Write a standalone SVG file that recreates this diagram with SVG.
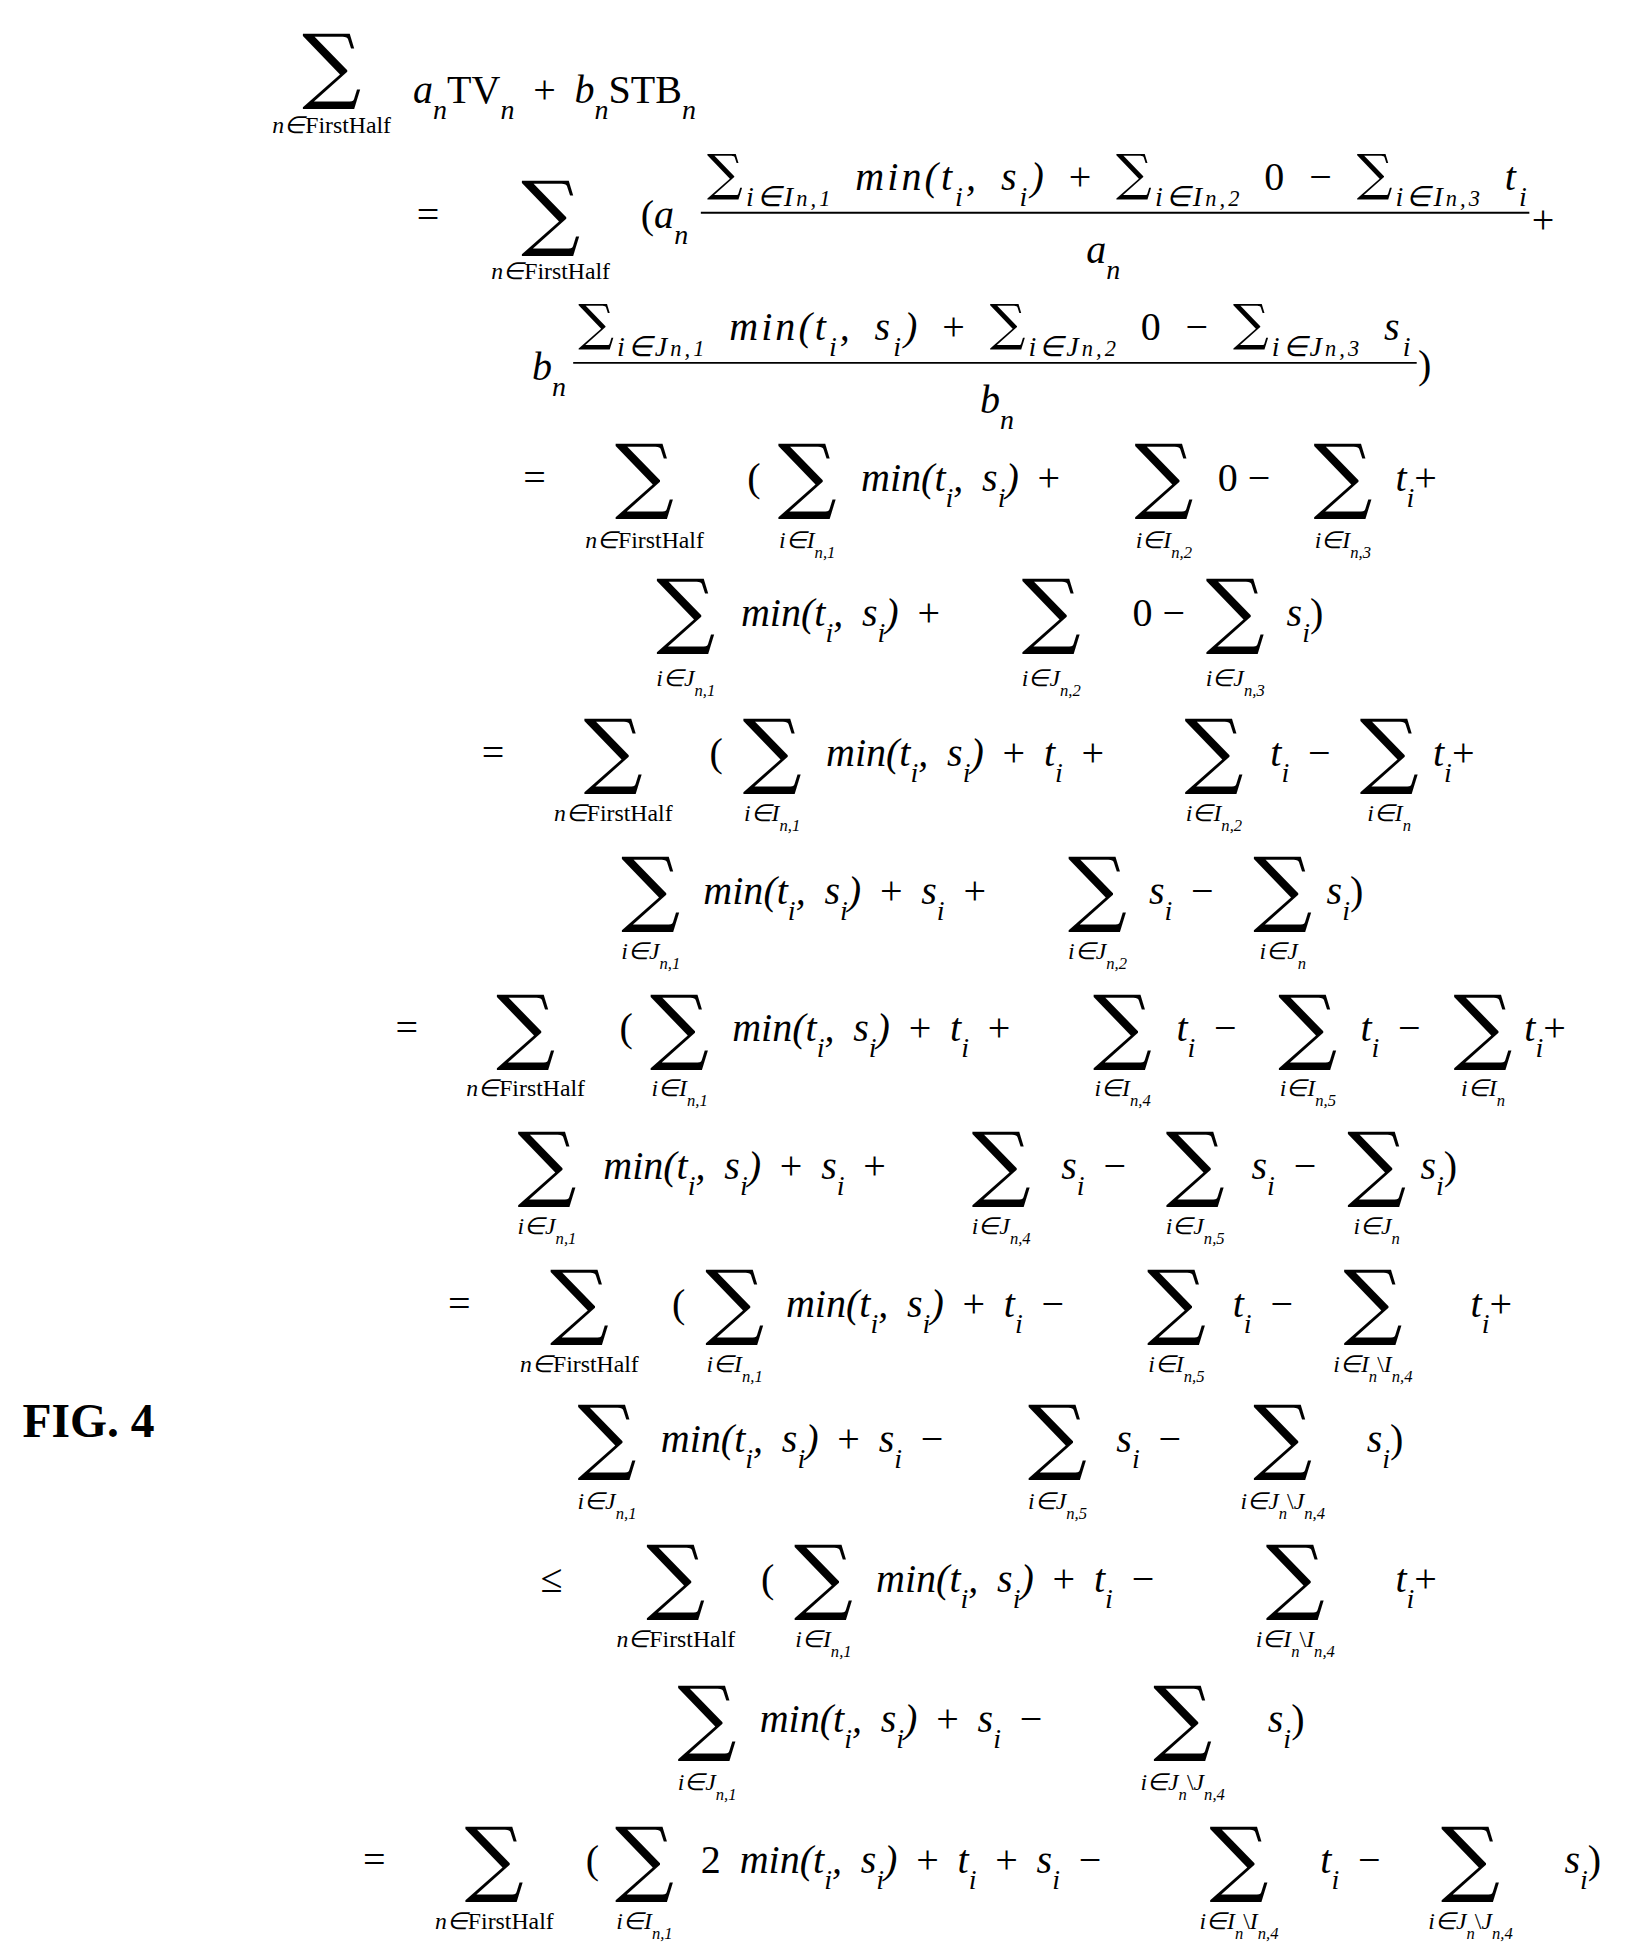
<svg xmlns="http://www.w3.org/2000/svg" width="1627" height="1952" viewBox="0 0 1627 1952">
<style>
.m{font-family:"Liberation Serif",serif;font-style:italic;font-size:32px;word-spacing:7px;fill:#000}
.u{font-style:normal}
.l{font-family:"Liberation Serif",serif;font-style:italic;font-size:19px;text-anchor:middle;fill:#000}
.S{font-family:"DejaVu Serif",serif;font-size:66px;text-anchor:middle;fill:#000}
.s2{font-family:"DejaVu Serif",serif;font-size:40px;font-style:normal}
.sb{font-size:70%;baseline-shift:sub}
.o{font-family:"Liberation Serif",serif;font-size:32px;fill:#000}
.f{font-family:"Liberation Serif",serif;font-weight:bold;font-size:38px;fill:#000}
</style>
<rect width="1627" height="1952" fill="#fff"/>
<g transform="scale(1.2515)">
<text class="f" x="18" y="1148">FIG. 4</text>
<!-- L1 -->
<text class="S" x="265" y="74">∑</text>
<text class="l" x="265" y="106">n∈<tspan class="u">FirstHalf</tspan></text>
<text class="m" x="330" y="82">a<tspan class="sb">n</tspan><tspan class="u">TV</tspan><tspan class="sb">n</tspan><tspan class="u"> + </tspan>b<tspan class="sb">n</tspan><tspan class="u">STB</tspan><tspan class="sb">n</tspan></text>
<!-- L2 -->
<text class="o" x="333" y="182">=</text>
<text class="S" x="440" y="192">∑</text>
<text class="l" x="440" y="223">n∈<tspan class="u">FirstHalf</tspan></text>
<text class="m" x="512" y="182"><tspan class="u">(</tspan>a<tspan class="sb">n</tspan></text>
<text class="m" x="565" y="152" textLength="655" lengthAdjust="spacing"><tspan class="s2">∑</tspan><tspan class="sb">i∈I<tspan font-size="80%">n,1</tspan></tspan> min(t<tspan class="sb">i</tspan>, s<tspan class="sb">i</tspan>)<tspan class="u"> + </tspan><tspan class="s2">∑</tspan><tspan class="sb">i∈I<tspan font-size="80%">n,2</tspan></tspan><tspan class="u"> 0 − </tspan><tspan class="s2">∑</tspan><tspan class="sb">i∈I<tspan font-size="80%">n,3</tspan></tspan> t<tspan class="sb">i</tspan></text>
<line x1="560" y1="170" x2="1222" y2="170" stroke="#000" stroke-width="1.5"/>
<text class="m" x="868" y="210">a<tspan class="sb">n</tspan></text>
<text class="o" x="1224" y="186">+</text>
<!-- L3 -->
<text class="m" x="425" y="304">b<tspan class="sb">n</tspan></text>
<text class="m" x="462" y="272" textLength="665" lengthAdjust="spacing"><tspan class="s2">∑</tspan><tspan class="sb">i∈J<tspan font-size="80%">n,1</tspan></tspan> min(t<tspan class="sb">i</tspan>, s<tspan class="sb">i</tspan>)<tspan class="u"> + </tspan><tspan class="s2">∑</tspan><tspan class="sb">i∈J<tspan font-size="80%">n,2</tspan></tspan><tspan class="u"> 0 − </tspan><tspan class="s2">∑</tspan><tspan class="sb">i∈J<tspan font-size="80%">n,3</tspan></tspan> s<tspan class="sb">i</tspan></text>
<line x1="458" y1="290" x2="1132" y2="290" stroke="#000" stroke-width="1.5"/>
<text class="m" x="783" y="330">b<tspan class="sb">n</tspan></text>
<text class="o" x="1133" y="302">)</text>
<!-- L4 -->
<text class="o" x="418" y="392">=</text>
<text class="S" x="515" y="402">∑</text>
<text class="l" x="515" y="438">n∈<tspan class="u">FirstHalf</tspan></text>
<text class="o" x="597" y="392">(</text>
<text class="S" x="645" y="402">∑</text>
<text class="l" x="645" y="438">i∈I<tspan class="sb">n,1</tspan></text>
<text class="m" x="688" y="392">min(t<tspan class="sb">i</tspan>, s<tspan class="sb">i</tspan>)<tspan class="u"> +</tspan></text>
<text class="S" x="930" y="402">∑</text>
<text class="l" x="930" y="438">i∈I<tspan class="sb">n,2</tspan></text>
<text class="o" x="973" y="392">0 −</text>
<text class="S" x="1073" y="402">∑</text>
<text class="l" x="1073" y="438">i∈I<tspan class="sb">n,3</tspan></text>
<text class="m" x="1115" y="392">t<tspan class="sb">i</tspan><tspan class="u">+</tspan></text>
<!-- L5 -->
<text class="S" x="548" y="510">∑</text>
<text class="l" x="548" y="548">i∈J<tspan class="sb">n,1</tspan></text>
<text class="m" x="592" y="500">min(t<tspan class="sb">i</tspan>, s<tspan class="sb">i</tspan>)<tspan class="u"> +</tspan></text>
<text class="S" x="840" y="510">∑</text>
<text class="l" x="840" y="548">i∈J<tspan class="sb">n,2</tspan></text>
<text class="o" x="905" y="500">0 −</text>
<text class="S" x="987" y="510">∑</text>
<text class="l" x="987" y="548">i∈J<tspan class="sb">n,3</tspan></text>
<text class="m" x="1028" y="500">s<tspan class="sb">i</tspan><tspan class="u">)</tspan></text>
<!-- L6 -->
<text class="o" x="385" y="612">=</text>
<text class="S" x="490" y="622">∑</text>
<text class="l" x="490" y="656">n∈<tspan class="u">FirstHalf</tspan></text>
<text class="o" x="567" y="612">(</text>
<text class="S" x="617" y="622">∑</text>
<text class="l" x="617" y="656">i∈I<tspan class="sb">n,1</tspan></text>
<text class="m" x="660" y="612">min(t<tspan class="sb">i</tspan>, s<tspan class="sb">i</tspan>)<tspan class="u"> + </tspan>t<tspan class="sb">i</tspan><tspan class="u"> +</tspan></text>
<text class="S" x="970" y="622">∑</text>
<text class="l" x="970" y="656">i∈I<tspan class="sb">n,2</tspan></text>
<text class="m" x="1015" y="612">t<tspan class="sb">i</tspan><tspan class="u"> −</tspan></text>
<text class="S" x="1110" y="622">∑</text>
<text class="l" x="1110" y="656">i∈I<tspan class="sb">n</tspan></text>
<text class="m" x="1145" y="612">t<tspan class="sb">i</tspan><tspan class="u">+</tspan></text>
<!-- L7 -->
<text class="S" x="520" y="732">∑</text>
<text class="l" x="520" y="766">i∈J<tspan class="sb">n,1</tspan></text>
<text class="m" x="562" y="722">min(t<tspan class="sb">i</tspan>, s<tspan class="sb">i</tspan>)<tspan class="u"> + </tspan>s<tspan class="sb">i</tspan><tspan class="u"> +</tspan></text>
<text class="S" x="877" y="732">∑</text>
<text class="l" x="877" y="766">i∈J<tspan class="sb">n,2</tspan></text>
<text class="m" x="918" y="722">s<tspan class="sb">i</tspan><tspan class="u"> −</tspan></text>
<text class="S" x="1025" y="732">∑</text>
<text class="l" x="1025" y="766">i∈J<tspan class="sb">n</tspan></text>
<text class="m" x="1060" y="722">s<tspan class="sb">i</tspan><tspan class="u">)</tspan></text>
<!-- L8 -->
<text class="o" x="316" y="832">=</text>
<text class="S" x="420" y="842">∑</text>
<text class="l" x="420" y="876">n∈<tspan class="u">FirstHalf</tspan></text>
<text class="o" x="495" y="832">(</text>
<text class="S" x="543" y="842">∑</text>
<text class="l" x="543" y="876">i∈I<tspan class="sb">n,1</tspan></text>
<text class="m" x="585" y="832">min(t<tspan class="sb">i</tspan>, s<tspan class="sb">i</tspan>)<tspan class="u"> + </tspan>t<tspan class="sb">i</tspan><tspan class="u"> +</tspan></text>
<text class="S" x="897" y="842">∑</text>
<text class="l" x="897" y="876">i∈I<tspan class="sb">n,4</tspan></text>
<text class="m" x="940" y="832">t<tspan class="sb">i</tspan><tspan class="u"> −</tspan></text>
<text class="S" x="1045" y="842">∑</text>
<text class="l" x="1045" y="876">i∈I<tspan class="sb">n,5</tspan></text>
<text class="m" x="1087" y="832">t<tspan class="sb">i</tspan><tspan class="u"> −</tspan></text>
<text class="S" x="1185" y="842">∑</text>
<text class="l" x="1185" y="876">i∈I<tspan class="sb">n</tspan></text>
<text class="m" x="1218" y="832">t<tspan class="sb">i</tspan><tspan class="u">+</tspan></text>
<!-- L9 -->
<text class="S" x="437" y="952">∑</text>
<text class="l" x="437" y="986">i∈J<tspan class="sb">n,1</tspan></text>
<text class="m" x="482" y="942">min(t<tspan class="sb">i</tspan>, s<tspan class="sb">i</tspan>)<tspan class="u"> + </tspan>s<tspan class="sb">i</tspan><tspan class="u"> +</tspan></text>
<text class="S" x="800" y="952">∑</text>
<text class="l" x="800" y="986">i∈J<tspan class="sb">n,4</tspan></text>
<text class="m" x="848" y="942">s<tspan class="sb">i</tspan><tspan class="u"> −</tspan></text>
<text class="S" x="955" y="952">∑</text>
<text class="l" x="955" y="986">i∈J<tspan class="sb">n,5</tspan></text>
<text class="m" x="1000" y="942">s<tspan class="sb">i</tspan><tspan class="u"> −</tspan></text>
<text class="S" x="1100" y="952">∑</text>
<text class="l" x="1100" y="986">i∈J<tspan class="sb">n</tspan></text>
<text class="m" x="1135" y="942">s<tspan class="sb">i</tspan><tspan class="u">)</tspan></text>
<!-- L10 -->
<text class="o" x="358" y="1052">=</text>
<text class="S" x="463" y="1062">∑</text>
<text class="l" x="463" y="1096">n∈<tspan class="u">FirstHalf</tspan></text>
<text class="o" x="537" y="1052">(</text>
<text class="S" x="587" y="1062">∑</text>
<text class="l" x="587" y="1096">i∈I<tspan class="sb">n,1</tspan></text>
<text class="m" x="628" y="1052">min(t<tspan class="sb">i</tspan>, s<tspan class="sb">i</tspan>)<tspan class="u"> + </tspan>t<tspan class="sb">i</tspan><tspan class="u"> −</tspan></text>
<text class="S" x="940" y="1062">∑</text>
<text class="l" x="940" y="1096">i∈I<tspan class="sb">n,5</tspan></text>
<text class="m" x="985" y="1052">t<tspan class="sb">i</tspan><tspan class="u"> −</tspan></text>
<text class="S" x="1097" y="1062">∑</text>
<text class="l" x="1097" y="1096">i∈I<tspan class="sb">n</tspan><tspan class="u">\</tspan>I<tspan class="sb">n,4</tspan></text>
<text class="m" x="1175" y="1052">t<tspan class="sb">i</tspan><tspan class="u">+</tspan></text>
<!-- L11 -->
<text class="S" x="485" y="1170">∑</text>
<text class="l" x="485" y="1206">i∈J<tspan class="sb">n,1</tspan></text>
<text class="m" x="528" y="1160">min(t<tspan class="sb">i</tspan>, s<tspan class="sb">i</tspan>)<tspan class="u"> + </tspan>s<tspan class="sb">i</tspan><tspan class="u"> −</tspan></text>
<text class="S" x="845" y="1170">∑</text>
<text class="l" x="845" y="1206">i∈J<tspan class="sb">n,5</tspan></text>
<text class="m" x="892" y="1160">s<tspan class="sb">i</tspan><tspan class="u"> −</tspan></text>
<text class="S" x="1025" y="1170">∑</text>
<text class="l" x="1025" y="1206">i∈J<tspan class="sb">n</tspan><tspan class="u">\</tspan>J<tspan class="sb">n,4</tspan></text>
<text class="m" x="1092" y="1160">s<tspan class="sb">i</tspan><tspan class="u">)</tspan></text>
<!-- L12 -->
<text class="o" x="432" y="1272">≤</text>
<text class="S" x="540" y="1282">∑</text>
<text class="l" x="540" y="1316">n∈<tspan class="u">FirstHalf</tspan></text>
<text class="o" x="608" y="1272">(</text>
<text class="S" x="658" y="1282">∑</text>
<text class="l" x="658" y="1316">i∈I<tspan class="sb">n,1</tspan></text>
<text class="m" x="700" y="1272">min(t<tspan class="sb">i</tspan>, s<tspan class="sb">i</tspan>)<tspan class="u"> + </tspan>t<tspan class="sb">i</tspan><tspan class="u"> −</tspan></text>
<text class="S" x="1035" y="1282">∑</text>
<text class="l" x="1035" y="1316">i∈I<tspan class="sb">n</tspan><tspan class="u">\</tspan>I<tspan class="sb">n,4</tspan></text>
<text class="m" x="1115" y="1272">t<tspan class="sb">i</tspan><tspan class="u">+</tspan></text>
<!-- L13 -->
<text class="S" x="565" y="1394">∑</text>
<text class="l" x="565" y="1430">i∈J<tspan class="sb">n,1</tspan></text>
<text class="m" x="607" y="1384">min(t<tspan class="sb">i</tspan>, s<tspan class="sb">i</tspan>)<tspan class="u"> + </tspan>s<tspan class="sb">i</tspan><tspan class="u"> −</tspan></text>
<text class="S" x="945" y="1394">∑</text>
<text class="l" x="945" y="1430">i∈J<tspan class="sb">n</tspan><tspan class="u">\</tspan>J<tspan class="sb">n,4</tspan></text>
<text class="m" x="1013" y="1384">s<tspan class="sb">i</tspan><tspan class="u">)</tspan></text>
<!-- L14 -->
<text class="o" x="290" y="1497">=</text>
<text class="S" x="395" y="1507">∑</text>
<text class="l" x="395" y="1541">n∈<tspan class="u">FirstHalf</tspan></text>
<text class="o" x="468" y="1497">(</text>
<text class="S" x="515" y="1507">∑</text>
<text class="l" x="515" y="1541">i∈I<tspan class="sb">n,1</tspan></text>
<text class="m" x="560" y="1497"><tspan class="u">2 </tspan>min(t<tspan class="sb">i</tspan>, s<tspan class="sb">i</tspan>)<tspan class="u"> + </tspan>t<tspan class="sb">i</tspan><tspan class="u"> + </tspan>s<tspan class="sb">i</tspan><tspan class="u"> −</tspan></text>
<text class="S" x="990" y="1507">∑</text>
<text class="l" x="990" y="1541">i∈I<tspan class="sb">n</tspan><tspan class="u">\</tspan>I<tspan class="sb">n,4</tspan></text>
<text class="m" x="1055" y="1497">t<tspan class="sb">i</tspan><tspan class="u"> −</tspan></text>
<text class="S" x="1175" y="1507">∑</text>
<text class="l" x="1175" y="1541">i∈J<tspan class="sb">n</tspan><tspan class="u">\</tspan>J<tspan class="sb">n,4</tspan></text>
<text class="m" x="1250" y="1497">s<tspan class="sb">i</tspan><tspan class="u">)</tspan></text>
</g>
</svg>
